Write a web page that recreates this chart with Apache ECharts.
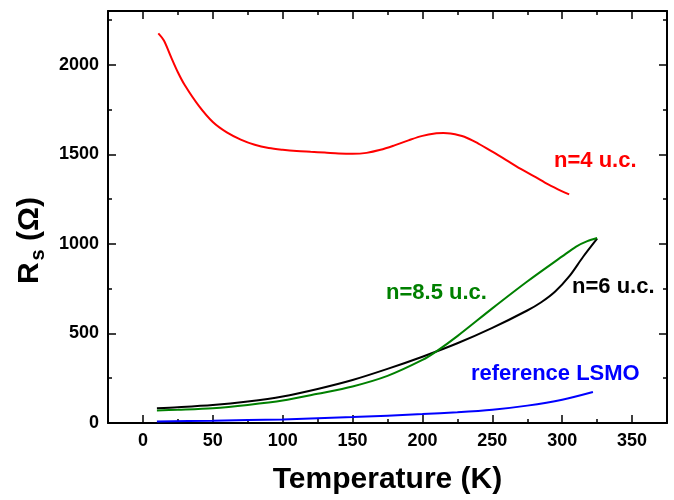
<!DOCTYPE html>
<html>
<head>
<meta charset="utf-8">
<script src="https://cdn.jsdelivr.net/npm/echarts@6/dist/echarts.min.js"></script>
<style>
  html, body { margin: 0; padding: 0; background: #fff; }
  #chart { width: 674px; height: 500px; }
</style>
</head>
<body>
<div id="chart"></div>
<script>
// tick values
const xMajorTicks = [0, 50, 100, 150, 200, 250, 300, 350];
const xMinorTicks = [25, 75, 125, 175, 225, 275, 325];
const yMajorTicks = [0, 500, 1000, 1500, 2000];
const yMinorTicks = [250, 750, 1250, 1750, 2250];

// n=4 u.c. (red)
const tempN4 = [11, 15, 20, 25, 30, 40, 50, 60, 70, 80, 90, 100, 110, 120, 130, 140, 150, 160, 170, 180, 190, 200, 210, 215, 220, 230, 240, 250, 260, 270, 280, 290, 300, 305];
const rsN4 = [2175, 2135, 2045, 1958, 1885, 1770, 1680, 1622, 1582, 1553, 1535, 1525, 1518, 1514, 1510, 1505, 1503, 1508, 1525, 1550, 1578, 1603, 1617, 1619, 1616, 1598, 1560, 1515, 1468, 1420, 1377, 1332, 1293, 1276];

// n=6 u.c. (black)
const tempN6 = [10, 25, 50, 75, 100, 125, 150, 175, 200, 225, 250, 275, 285, 295, 305, 315, 325];
const rsN6 = [83, 88, 100, 120, 148, 190, 240, 302, 370, 445, 531, 628, 674, 734, 818, 928, 1029];

// n=8.5 u.c. (green)
const tempN85 = [10, 25, 50, 75, 100, 125, 150, 175, 200, 210, 225, 250, 275, 300, 310, 318, 325];
const rsN85 = [70, 74, 83, 101, 125, 163, 204, 263, 352, 400, 485, 640, 790, 930, 985, 1015, 1033];

// reference LSMO (blue)
const tempRef = [10, 50, 100, 150, 200, 225, 250, 275, 300, 322];
const rsRef = [9, 13, 20, 33, 50, 60, 74, 97, 130, 173];

const font = 'Liberation Sans, Arial, sans-serif';

function pairs(xs, ys) {
  return xs.map((x, i) => [x, ys[i]]);
}

function curve(name, xs, ys, color) {
  return {
    name: name,
    type: 'line',
    data: pairs(xs, ys),
    smooth: 0.3,
    showSymbol: false,
    lineStyle: { color: color, width: 2 },
    silent: true
  };
}

// helper for the tick-only axes (minor ticks, mirrored top/right)
function xTickAxis(position, ticks, len, showLine) {
  return {
    type: 'value', position: position, min: -25, max: 375,
    axisLine: { show: showLine, onZero: false, lineStyle: { color: '#000', width: 2 } },
    axisTick: { show: true, inside: true, length: len, customValues: ticks, lineStyle: { color: '#000', width: 1.5 } },
    axisLabel: { show: false },
    splitLine: { show: false }
  };
}

function yTickAxis(position, ticks, len, showLine) {
  return {
    type: 'value', position: position, min: 0, max: 2300,
    axisLine: { show: showLine, onZero: false, lineStyle: { color: '#000', width: 2 } },
    axisTick: { show: true, inside: true, length: len, customValues: ticks, lineStyle: { color: '#000', width: 1.5 } },
    axisLabel: { show: false },
    splitLine: { show: false }
  };
}

const chart = echarts.init(document.getElementById('chart'), null, { renderer: 'canvas' });

const option = {
  backgroundColor: '#ffffff',
  animation: false,
  grid: { left: 108, right: 7, top: 11, bottom: 74, containLabel: false },
  xAxis: [
    {
      type: 'value', position: 'bottom', min: -25, max: 375,
      name: 'Temperature (K)',
      nameLocation: 'middle',
      nameGap: 42,
      nameTextStyle: { fontFamily: font, fontWeight: 'bold', fontSize: 30, color: '#000' },
      axisLine: { show: true, onZero: false, lineStyle: { color: '#000', width: 2 } },
      axisTick: { show: true, inside: true, length: 8, customValues: xMajorTicks, lineStyle: { color: '#000', width: 1.5 } },
      axisLabel: { show: true, customValues: xMajorTicks, margin: 9, fontFamily: font, fontWeight: 'bold', fontSize: 18, color: '#000' },
      splitLine: { show: false }
    },
    xTickAxis('bottom', xMinorTicks, 4, false),
    xTickAxis('top', xMajorTicks, 8, true),
    xTickAxis('top', xMinorTicks, 4, false)
  ],
  yAxis: [
    {
      type: 'value', position: 'left', min: 0, max: 2300,
      name: '{r|R}{s|s}{p| (Ω)}',
      nameLocation: 'middle',
      nameRotate: 90,
      nameGap: 56,
      nameTextStyle: {
        color: '#000',
        padding: [0, 47, 0, 0],
        rich: {
          r: { fontFamily: font, fontWeight: 'bold', fontSize: 30, color: '#000' },
          s: { fontFamily: font, fontWeight: 'bold', fontSize: 20, color: '#000', padding: [16, 0, 0, 2] },
          p: { fontFamily: font, fontWeight: 'bold', fontSize: 30, color: '#000' }
        }
      },
      axisLine: { show: true, onZero: false, lineStyle: { color: '#000', width: 2 } },
      axisTick: { show: true, inside: true, length: 8, customValues: yMajorTicks, lineStyle: { color: '#000', width: 1.5 } },
      axisLabel: {
        show: true, customValues: yMajorTicks, margin: 9,
        formatter: function (v) { return String(v); },
        fontFamily: font, fontWeight: 'bold', fontSize: 18, color: '#000'
      },
      splitLine: { show: false }
    },
    yTickAxis('left', yMinorTicks, 4, false),
    yTickAxis('right', yMajorTicks, 8, true),
    yTickAxis('right', yMinorTicks, 4, false)
  ],
  graphic: [
    { type: 'text', left: 554, top: 150, style: { text: 'n=4 u.c.', fill: '#ff0000', font: 'bold 22px ' + font } },
    { type: 'text', left: 386, top: 282, style: { text: 'n=8.5 u.c.', fill: '#008000', font: 'bold 22px ' + font } },
    { type: 'text', left: 572, top: 276, style: { text: 'n=6 u.c.', fill: '#000000', font: 'bold 22px ' + font } },
    { type: 'text', left: 471, top: 363, style: { text: 'reference LSMO', fill: '#0000ff', font: 'bold 22px ' + font } }
  ],
  series: [
    curve('n=4 u.c.', tempN4, rsN4, '#ff0000'),
    curve('n=6 u.c.', tempN6, rsN6, '#000000'),
    curve('n=8.5 u.c.', tempN85, rsN85, '#008000'),
    curve('reference LSMO', tempRef, rsRef, '#0000ff')
  ]
};

chart.setOption(option);
</script>
</body>
</html>
